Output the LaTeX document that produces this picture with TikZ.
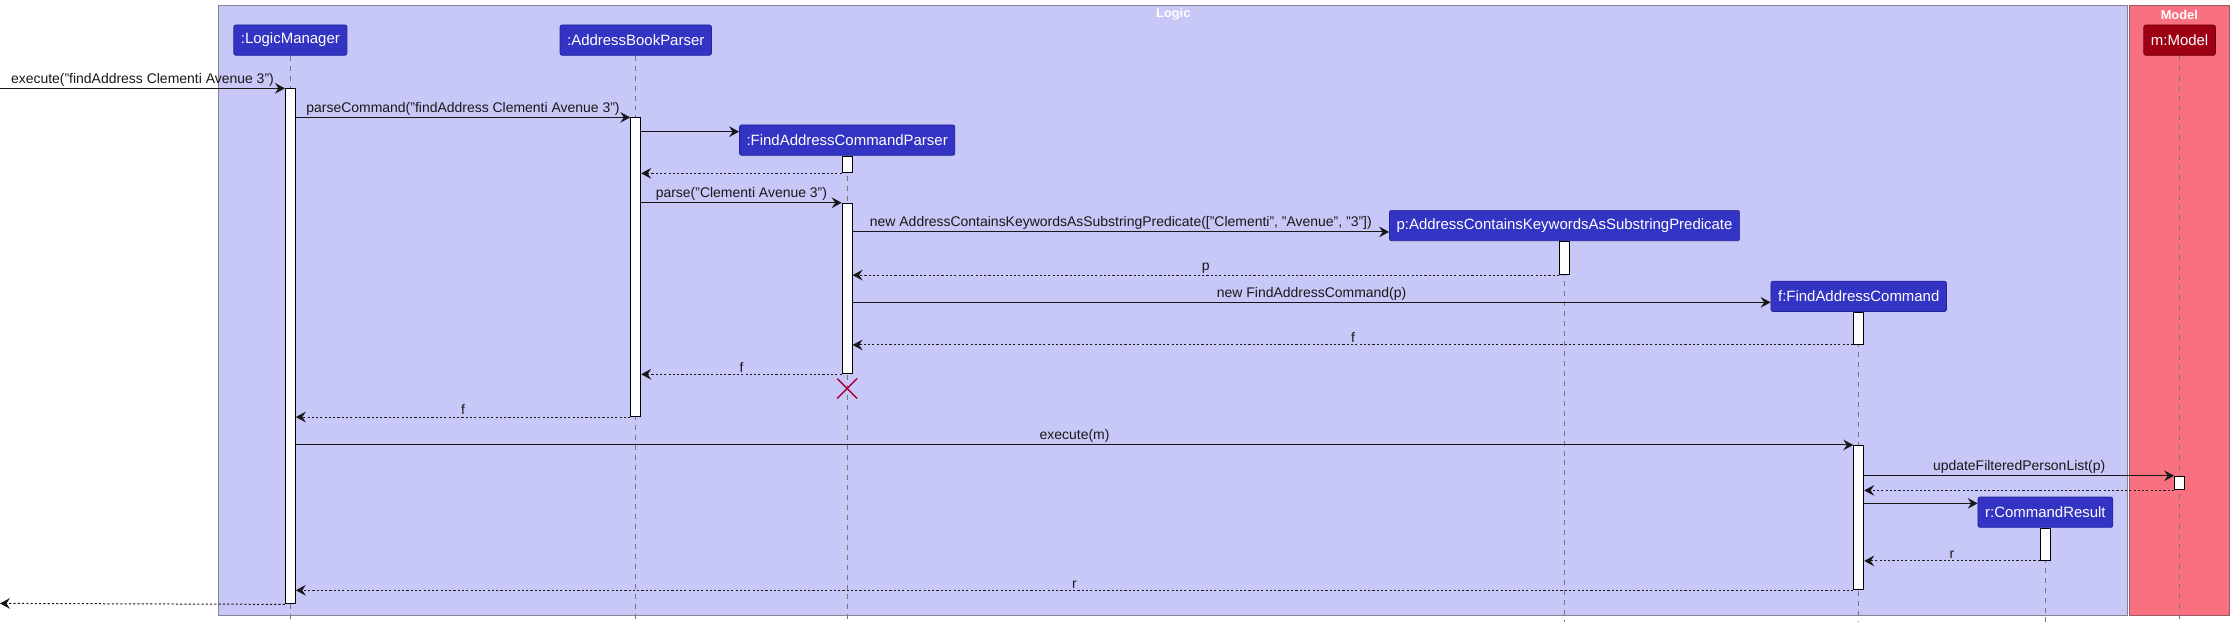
\documentclass[tikz,border=0pt]{standalone}
\usepackage{fontspec}
\setmainfont{Liberation Sans}
\usepackage{tikz}
\usetikzlibrary{arrows.meta, shapes.misc}

\definecolor{logicfill}{HTML}{C8C8F8}
\definecolor{logicline}{HTML}{85858F}
\definecolor{modelfill}{HTML}{F97181}
\definecolor{modelline}{HTML}{9A5A66}
\definecolor{partfill}{HTML}{3333C4}
\definecolor{partline}{HTML}{24249A}
\definecolor{modelpartfill}{HTML}{9D0012}
\definecolor{modelpartline}{HTML}{70000C}
\definecolor{lifegray}{HTML}{777777}
\definecolor{msgcol}{HTML}{181818}
\definecolor{destroycol}{HTML}{A80036}

\begin{document}
\begin{tikzpicture}[
    x=1pt, y=-1pt,
    >={Stealth[length=7pt, width=7.5pt, inset=2.5pt]},
    every node/.style={font=\fontsize{9.8}{11.5}\selectfont},
    part/.style={draw=partline, fill=partfill, rounded corners=1.5pt, text=white,
        inner xsep=5pt, inner ysep=0pt, minimum height=21.3pt, line width=0.5pt,
        font=\fontsize{10.5}{12}\selectfont},
    modelpart/.style={part, draw=modelpartline, fill=modelpartfill},
    actbar/.style={draw=black, fill=white, line width=0.7pt, minimum width=7pt,
        inner sep=0pt, anchor=north},
    lifeline/.style={draw=lifegray, line width=0.7pt, dash pattern=on 3.5pt off 3.5pt},
    msg/.style={->, line width=0.7pt, draw=msgcol},
    ret/.style={msg, dash pattern=on 1.5pt off 1.5pt},
    msglab/.style={midway, above, inner sep=1.2pt, text=msgcol},
    grouptitle/.style={font=\bfseries\fontsize{9}{10}\selectfont, text=white, inner sep=0pt},
    destroy/.style={cross out, draw=destroycol, line width=1pt, minimum size=13pt, inner sep=0pt}
]
\useasboundingbox (0,0) rectangle (1568,440.1);

% --- Groups ---
\draw[fill=logicfill, draw=logicline, line width=0.7pt] (153.7,4.2) rectangle (1493.4,431.7);
\draw[fill=modelfill, draw=modelline, line width=0.7pt] (1494.6,4.2) rectangle (1564.6,431.7);
\node[grouptitle] (logictitle) at (823.5,10.3) {Logic};
\node[grouptitle] (modeltitle) at (1529.6,10.3) {Model};

% --- Participants ---
\node[part] (lm) at (203.8,28.15) {:LogicManager};
\node[part] (abp) at (446.2,28.15) {:AddressBookParser};
\node[part] (facp) at (594.6,98.35) {:FindAddressCommandParser};
\node[part] (p) at (1098.1,158.3) {p:AddressContainsKeywordsAsSubstringPredicate};
\node[part] (f) at (1304.6,208) {f:FindAddressCommand};
\node[part] (r) at (1435.6,359.5) {r:CommandResult};
\node[modelpart] (m) at (1529.8,28.15) {m:Model};

% --- Lifelines ---
\coordinate (bot) at (0,436.4);
\foreach \who in {lm, abp, facp, p, f, r, m}
    \draw[lifeline] (\who.south) -- (\who.south |- bot);

% --- Activations ---
\node[actbar, minimum height=361.5pt] (lmact) at (lm |- 0,62) {};
\node[actbar, minimum height=209.6pt] (abpact) at (abp |- 0,82.4) {};
\node[actbar, minimum height=11.7pt] (facpact1) at (facp.south) {};
\node[actbar, minimum height=119.7pt] (facpact2) at (facp |- 0,142.3) {};
\node[actbar, minimum height=23.2pt] (pact) at (p.south) {};
\node[actbar, minimum height=22.5pt] (fact1) at (f.south) {};
\node[actbar, minimum height=101.3pt] (fact2) at (f |- 0,312.3) {};
\node[actbar, minimum height=9.6pt] (mact) at (m |- 0,333.9) {};
\node[actbar, minimum height=22.6pt] (ract) at (r.south) {};

% --- Messages ---
\coordinate (in) at (0,62);
\coordinate (out) at (0,423.5);
\coordinate (mk1) at (0,92.4);
\coordinate (mk2) at (0,162.8);
\coordinate (mk3) at (0,212.2);
\coordinate (mk4) at (0,353.3);

\draw[msg] (in) -- (lmact.north west)
    node[msglab] {execute("findAddress Clementi Avenue 3")};
\draw[msg] (lmact.east |- abpact.north) -- (abpact.north west)
    node[msglab] {parseCommand("findAddress Clementi Avenue 3")};
\draw[msg] (abpact.east |- mk1) -- (facp.west |- mk1);
\draw[ret] (facpact1.south west) -- (abpact.east |- facpact1.south);
\draw[msg] (abpact.east |- facpact2.north) -- (facpact2.north west)
    node[msglab] {parse("Clementi Avenue 3")};
\draw[msg] (facpact2.east |- mk2) -- (p.west |- mk2)
    node[msglab] {new AddressContainsKeywordsAsSubstringPredicate(["Clementi", "Avenue", "3"])};
\draw[ret] (pact.south west) -- (facpact2.east |- pact.south)
    node[msglab] {p};
\draw[msg] (facpact2.east |- mk3) -- (f.west |- mk3)
    node[msglab] {new FindAddressCommand(p)};
\draw[ret] (fact1.south west) -- (facpact2.east |- fact1.south)
    node[msglab] {f};
\draw[ret] (facpact2.south west) -- (abpact.east |- facpact2.south)
    node[msglab] {f};
\node[destroy] (facpx) at ([yshift=-10pt]facpact2.south) {};
\draw[ret] (abpact.south west) -- (lmact.east |- abpact.south)
    node[msglab] {f};
\draw[msg] (lmact.east |- fact2.north) -- (fact2.north west)
    node[msglab] {execute(m)};
\draw[msg] (fact2.east |- mact.north) -- (mact.north west)
    node[msglab] {updateFilteredPersonList(p)};
\draw[ret] (mact.south west) -- (fact2.east |- mact.south);
\draw[msg] (fact2.east |- mk4) -- (r.west |- mk4);
\draw[ret] (ract.south west) -- (fact2.east |- ract.south)
    node[msglab] {r};
\draw[ret] (fact2.south west) -- (lmact.east |- fact2.south)
    node[msglab] {r};
\draw[ret] (lmact.south west) -- (out);

\end{tikzpicture}
\end{document}
